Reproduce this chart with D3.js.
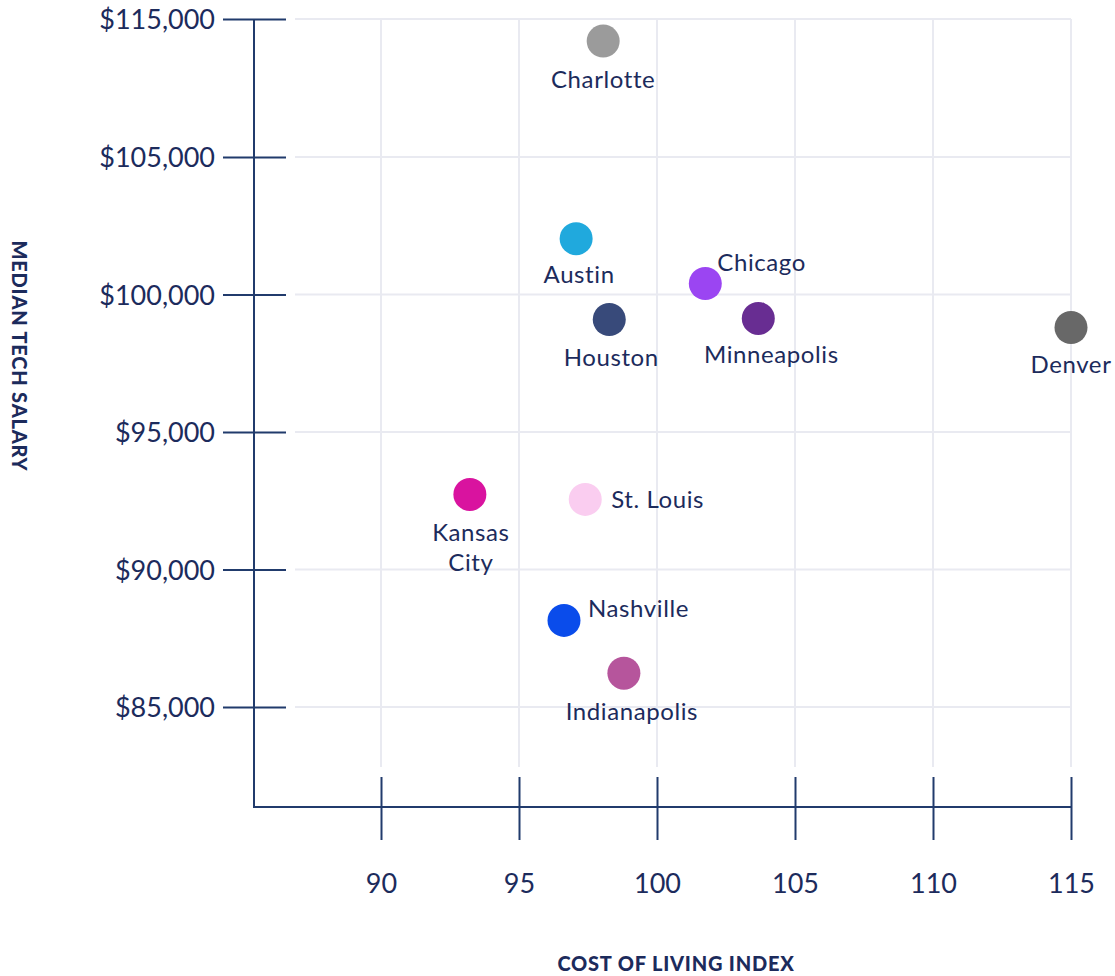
<!DOCTYPE html>
<html>
<head>
<meta charset="utf-8">
<script src="https://cdn.jsdelivr.net/npm/d3@7"></script>
<style>
  body { margin: 0; background: #fff; }
  svg text { font-family: Lato, "Noto Sans", sans-serif; fill: #1c2b5c; }
</style>
</head>
<body>
<script>
const w = 1115;
const h = 976;

// data
const cities = ["Charlotte", "Austin", "Chicago", "Houston", "Minneapolis", "Denver", "Kansas City", "St. Louis", "Nashville", "Indianapolis"];
const costIndex = [98.05, 97.07, 101.75, 98.27, 103.67, 115.0, 93.22, 97.4, 96.63, 98.8];
const salary = [113400, 102030, 100400, 99090, 99130, 98800, 92730, 92550, 88150, 86230];
const cityColors = ["#9b9b9b", "#20a9dd", "#9b45f2", "#384a7a", "#682d92", "#686868", "#d9139f", "#facdf0", "#0a4ceb", "#b6559c"];

const xTicks = [90, 95, 100, 105, 110, 115];
const yTicks = [85000, 90000, 95000, 100000, 105000, 115000];

// label placement around each dot
const labelPos = {
  "Charlotte": { dx: 0, dy: 47, anchor: "middle" },
  "Austin": { dx: 3, dy: 44, anchor: "middle" },
  "Chicago": { dx: 12, dy: -13, anchor: "start" },
  "Houston": { dx: 2, dy: 46, anchor: "middle" },
  "Minneapolis": { dx: 13, dy: 45, anchor: "middle" },
  "Denver": { dx: 0, dy: 45, anchor: "middle" },
  "Kansas City": { dx: 1, dy: 47, anchor: "middle" },
  "St. Louis": { dx: 26, dy: 9, anchor: "start" },
  "Nashville": { dx: 24, dy: -3, anchor: "start" },
  "Indianapolis": { dx: 8, dy: 47, anchor: "middle" }
};

const axisColor = "#213b6c";
const gridColor = "#e9eaf1";

const m = { top: 19, right: 44, bottom: 169, left: 254 };
const plotBottom = h - m.bottom;

const x = d3.scaleLinear().
domain([90, 115]).
range([381, w - m.right]);

// axis skips from 105k straight to 115k, so the scale is piecewise
const y = d3.scaleLinear().
domain([85000, 105000, 115000]).
range([707, 157, m.top]);

const svg = d3.select("body").
append("svg").
attr("width", w).
attr("height", h);

// grid
svg.append("g").
selectAll("line").
data(yTicks).
enter().
append("line").
attr("x1", m.left + 41).
attr("x2", x(115)).
attr("y1", d => y(d)).
attr("y2", d => y(d)).
attr("stroke", gridColor).
attr("stroke-width", 2);

svg.append("g").
selectAll("line").
data(xTicks).
enter().
append("line").
attr("x1", d => x(d)).
attr("x2", d => x(d)).
attr("y1", y(115000)).
attr("y2", plotBottom - 40).
attr("stroke", gridColor).
attr("stroke-width", 2);

// y axis
const yAxis = d3.axisLeft(y).
tickValues(yTicks).
tickSize(0).
tickPadding(39).
tickFormat(d => "$" + d3.format(",")(d));

const gy = svg.append("g").
attr("transform", "translate(" + m.left + ",0)").
call(yAxis);

gy.select(".domain").remove();
gy.selectAll(".tick line").
attr("x1", -31).
attr("x2", 32).
attr("stroke", axisColor).
attr("stroke-width", 2);
gy.selectAll(".tick text").
attr("font-size", 27).
attr("fill", "#1c2b5c").
attr("dy", "0.36em");

svg.append("line").
attr("x1", m.left).
attr("x2", m.left).
attr("y1", y(115000)).
attr("y2", plotBottom + 1).
attr("stroke", axisColor).
attr("stroke-width", 2);

// x axis
const xAxis = d3.axisBottom(x).
tickValues(xTicks).
tickSize(0).
tickPadding(0).
tickFormat(d3.format("d"));

const gx = svg.append("g").
attr("transform", "translate(0," + plotBottom + ")").
call(xAxis);

gx.select(".domain").remove();
gx.selectAll(".tick line").
attr("y1", -30).
attr("y2", 33).
attr("stroke", axisColor).
attr("stroke-width", 2);
gx.selectAll(".tick text").
attr("font-size", 27).
attr("fill", "#1c2b5c").
attr("y", 86).
attr("dy", 0);

svg.append("line").
attr("x1", m.left - 1).
attr("x2", x(115)).
attr("y1", plotBottom).
attr("y2", plotBottom).
attr("stroke", axisColor).
attr("stroke-width", 2);

// axis titles
svg.append("text").
attr("x", 676).
attr("y", 971).
attr("text-anchor", "middle").
attr("font-size", 20).
attr("font-weight", 900).
attr("letter-spacing", 0.8).
attr("fill", "#1c3466").
text("COST OF LIVING INDEX");

svg.append("text").
attr("transform", "translate(12,356) rotate(90)").
attr("text-anchor", "middle").
attr("font-size", 20).
attr("font-weight", 900).
attr("letter-spacing", 0.8).
attr("fill", "#1c3466").
text("MEDIAN TECH SALARY");

// dots
const pts = cities.map((c, i) => ({ city: c, cost: costIndex[i], salary: salary[i], color: cityColors[i] }));

svg.append("g").
selectAll("circle").
data(pts).
enter().
append("circle").
attr("cx", d => x(d.cost)).
attr("cy", d => y(d.salary)).
attr("r", 16.5).
attr("fill", d => d.color);

const labels = svg.append("g").
selectAll("text").
data(pts).
enter().
append("text").
attr("font-size", 24).
attr("letter-spacing", 0.6).
attr("text-anchor", d => labelPos[d.city].anchor).
attr("x", d => x(d.cost) + labelPos[d.city].dx).
attr("y", d => y(d.salary) + labelPos[d.city].dy);

labels.each(function (d) {
  const words = d.city === "Kansas City" ? ["Kansas", "City"] : [d.city];
  const t = d3.select(this);
  words.forEach((wd, i) => {
    t.append("tspan").
    attr("x", x(d.cost) + labelPos[d.city].dx).
    attr("dy", i === 0 ? 0 : 30).
    text(wd);
  });
});
</script>
</body>
</html>
